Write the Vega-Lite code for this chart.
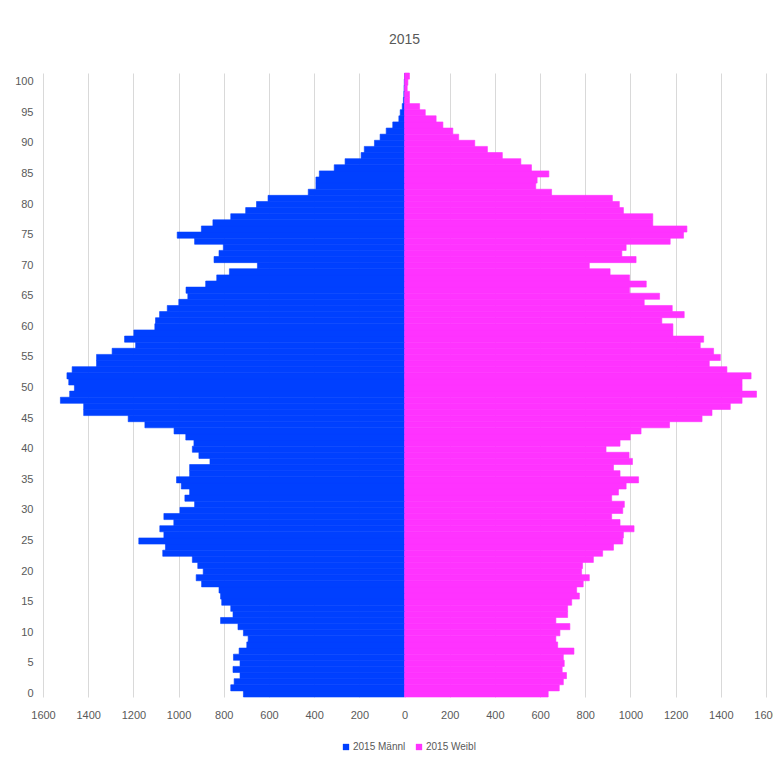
{
  "$schema": "https://vega.github.io/schema/vega-lite/v6.json",
  "width": 723,
  "height": 624,
  "autosize": {"type": "none"},
  "padding": {"left": 43, "top": 73, "right": 7, "bottom": 67},
  "background": "white",
  "title": {"text": "2015", "fontSize": 14, "fontWeight": "normal", "color": "#595959", "font": "Liberation Sans", "offset": 26, "anchor": "middle"},
  "data": {"values": [
    {"age":0,"2015 Männl":713,"2015 Weibl":636},
    {"age":1,"2015 Männl":769,"2015 Weibl":685},
    {"age":2,"2015 Männl":754,"2015 Weibl":703},
    {"age":3,"2015 Männl":728,"2015 Weibl":717},
    {"age":4,"2015 Männl":759,"2015 Weibl":698},
    {"age":5,"2015 Männl":728,"2015 Weibl":707},
    {"age":6,"2015 Männl":757,"2015 Weibl":703},
    {"age":7,"2015 Männl":732,"2015 Weibl":750},
    {"age":8,"2015 Männl":698,"2015 Weibl":678},
    {"age":9,"2015 Männl":692,"2015 Weibl":670},
    {"age":10,"2015 Männl":713,"2015 Weibl":688},
    {"age":11,"2015 Männl":737,"2015 Weibl":732},
    {"age":12,"2015 Männl":814,"2015 Weibl":670},
    {"age":13,"2015 Männl":759,"2015 Weibl":722},
    {"age":14,"2015 Männl":769,"2015 Weibl":722},
    {"age":15,"2015 Männl":809,"2015 Weibl":740},
    {"age":16,"2015 Männl":814,"2015 Weibl":774},
    {"age":17,"2015 Männl":821,"2015 Weibl":762},
    {"age":18,"2015 Männl":898,"2015 Weibl":791},
    {"age":19,"2015 Männl":922,"2015 Weibl":818},
    {"age":20,"2015 Männl":891,"2015 Weibl":784},
    {"age":21,"2015 Männl":915,"2015 Weibl":788},
    {"age":22,"2015 Männl":939,"2015 Weibl":836},
    {"age":23,"2015 Männl":1070,"2015 Weibl":877},
    {"age":24,"2015 Männl":1058,"2015 Weibl":925},
    {"age":25,"2015 Männl":1176,"2015 Weibl":966},
    {"age":26,"2015 Männl":1065,"2015 Weibl":969},
    {"age":27,"2015 Männl":1083,"2015 Weibl":1016},
    {"age":28,"2015 Männl":1021,"2015 Weibl":954},
    {"age":29,"2015 Männl":1065,"2015 Weibl":917},
    {"age":30,"2015 Männl":994,"2015 Weibl":966},
    {"age":31,"2015 Männl":929,"2015 Weibl":973},
    {"age":32,"2015 Männl":972,"2015 Weibl":917},
    {"age":33,"2015 Männl":951,"2015 Weibl":947},
    {"age":34,"2015 Männl":988,"2015 Weibl":981},
    {"age":35,"2015 Männl":1009,"2015 Weibl":1036},
    {"age":36,"2015 Männl":951,"2015 Weibl":954},
    {"age":37,"2015 Männl":951,"2015 Weibl":925},
    {"age":38,"2015 Männl":861,"2015 Weibl":1009},
    {"age":39,"2015 Männl":910,"2015 Weibl":994},
    {"age":40,"2015 Männl":939,"2015 Weibl":892},
    {"age":41,"2015 Männl":932,"2015 Weibl":954},
    {"age":42,"2015 Männl":968,"2015 Weibl":999},
    {"age":43,"2015 Männl":1020,"2015 Weibl":1047},
    {"age":44,"2015 Männl":1149,"2015 Weibl":1173},
    {"age":45,"2015 Männl":1223,"2015 Weibl":1317},
    {"age":46,"2015 Männl":1420,"2015 Weibl":1361},
    {"age":47,"2015 Männl":1420,"2015 Weibl":1442},
    {"age":48,"2015 Männl":1523,"2015 Weibl":1494},
    {"age":49,"2015 Männl":1482,"2015 Weibl":1558},
    {"age":50,"2015 Männl":1461,"2015 Weibl":1494},
    {"age":51,"2015 Männl":1486,"2015 Weibl":1494},
    {"age":52,"2015 Männl":1494,"2015 Weibl":1534},
    {"age":53,"2015 Männl":1471,"2015 Weibl":1427},
    {"age":54,"2015 Männl":1363,"2015 Weibl":1349},
    {"age":55,"2015 Männl":1363,"2015 Weibl":1398},
    {"age":56,"2015 Männl":1294,"2015 Weibl":1368},
    {"age":57,"2015 Männl":1190,"2015 Weibl":1309},
    {"age":58,"2015 Männl":1239,"2015 Weibl":1324},
    {"age":59,"2015 Männl":1198,"2015 Weibl":1188},
    {"age":60,"2015 Männl":1105,"2015 Weibl":1188},
    {"age":61,"2015 Männl":1102,"2015 Weibl":1139},
    {"age":62,"2015 Männl":1084,"2015 Weibl":1238},
    {"age":63,"2015 Männl":1050,"2015 Weibl":1185},
    {"age":64,"2015 Männl":999,"2015 Weibl":1061},
    {"age":65,"2015 Männl":959,"2015 Weibl":1129},
    {"age":66,"2015 Männl":967,"2015 Weibl":996},
    {"age":67,"2015 Männl":880,"2015 Weibl":1070},
    {"age":68,"2015 Männl":831,"2015 Weibl":996},
    {"age":69,"2015 Männl":775,"2015 Weibl":910},
    {"age":70,"2015 Männl":651,"2015 Weibl":818},
    {"age":71,"2015 Männl":843,"2015 Weibl":1025},
    {"age":72,"2015 Männl":821,"2015 Weibl":962},
    {"age":73,"2015 Männl":802,"2015 Weibl":981},
    {"age":74,"2015 Männl":929,"2015 Weibl":1176},
    {"age":75,"2015 Männl":1006,"2015 Weibl":1235},
    {"age":76,"2015 Männl":899,"2015 Weibl":1250},
    {"age":77,"2015 Männl":848,"2015 Weibl":1099},
    {"age":78,"2015 Männl":769,"2015 Weibl":1099},
    {"age":79,"2015 Männl":703,"2015 Weibl":969},
    {"age":80,"2015 Männl":655,"2015 Weibl":951},
    {"age":81,"2015 Männl":604,"2015 Weibl":920},
    {"age":82,"2015 Männl":426,"2015 Weibl":651},
    {"age":83,"2015 Männl":392,"2015 Weibl":581},
    {"age":84,"2015 Männl":392,"2015 Weibl":587},
    {"age":85,"2015 Männl":377,"2015 Weibl":639},
    {"age":86,"2015 Männl":311,"2015 Weibl":562},
    {"age":87,"2015 Männl":263,"2015 Weibl":515},
    {"age":88,"2015 Männl":192,"2015 Weibl":433},
    {"age":89,"2015 Männl":178,"2015 Weibl":367},
    {"age":90,"2015 Männl":133,"2015 Weibl":311},
    {"age":91,"2015 Männl":108,"2015 Weibl":240},
    {"age":92,"2015 Männl":81,"2015 Weibl":214},
    {"age":93,"2015 Männl":52,"2015 Weibl":170},
    {"age":94,"2015 Männl":25,"2015 Weibl":140},
    {"age":95,"2015 Männl":19,"2015 Weibl":92},
    {"age":96,"2015 Männl":10,"2015 Weibl":67},
    {"age":97,"2015 Männl":5,"2015 Weibl":22},
    {"age":98,"2015 Männl":3,"2015 Weibl":22},
    {"age":99,"2015 Männl":2,"2015 Weibl":12},
    {"age":100,"2015 Männl":1,"2015 Weibl":15},
    {"age":101,"2015 Männl":0,"2015 Weibl":22}
  ]},
  "transform": [
    {"fold": ["2015 Männl", "2015 Weibl"], "as": ["g", "n"]},
    {"calculate": "datum.g == '2015 Männl' ? -datum.n : datum.n", "as": "x"}
  ],
  "mark": {"type": "bar", "orient": "horizontal", "strokeWidth": 0.6},
  "encoding": {
    "y": {
      "field": "age", "type": "ordinal", "sort": "descending",
      "scale": {"paddingInner": 0, "paddingOuter": 0},
      "axis": {"values": [0,5,10,15,20,25,30,35,40,45,50,55,60,65,70,75,80,85,90,95,100], "title": null, "ticks": false, "domain": false, "grid": false, "labelPadding": 10, "labelFontSize": 11, "labelColor": "#595959", "labelFont": "'Liberation Sans Narrow', 'Liberation Sans', sans-serif", "labelOverlap": false}
    },
    "x": {
      "field": "x", "type": "quantitative", "stack": null,
      "scale": {"domain": [-1600, 1600], "nice": false},
      "axis": {"values": [-1600,-1400,-1200,-1000,-800,-600,-400,-200,0,200,400,600,800,1000,1200,1400,1600], "labelExpr": "abs(datum.value)", "title": null, "ticks": false, "domain": false, "grid": true, "gridColor": "#d9d9d9", "gridWidth": 1, "labelPadding": 12, "labelFontSize": 11, "labelColor": "#595959", "labelFont": "'Liberation Sans Narrow', 'Liberation Sans', sans-serif", "labelFlush": false, "labelOverlap": false}
    },
    "color": {
      "field": "g", "type": "nominal",
      "scale": {"domain": ["2015 Männl", "2015 Weibl"], "range": ["#0040ff", "#ff33ff"]},
      "legend": {"orient": "none", "legendX": 298, "legendY": 669, "title": null, "direction": "horizontal", "symbolType": "square", "symbolSize": 40, "symbolStrokeWidth": 0, "labelFontSize": 10, "labelColor": "#595959", "labelFont": "'Liberation Sans Narrow', 'Liberation Sans', sans-serif", "columnPadding": 8, "labelOffset": 2}
    },
    "stroke": {
      "field": "g", "type": "nominal",
      "scale": {"domain": ["2015 Männl", "2015 Weibl"], "range": ["#0040ff", "#ff33ff"]},
      "legend": null
    }
  },
  "config": {"view": {"stroke": null}}
}
